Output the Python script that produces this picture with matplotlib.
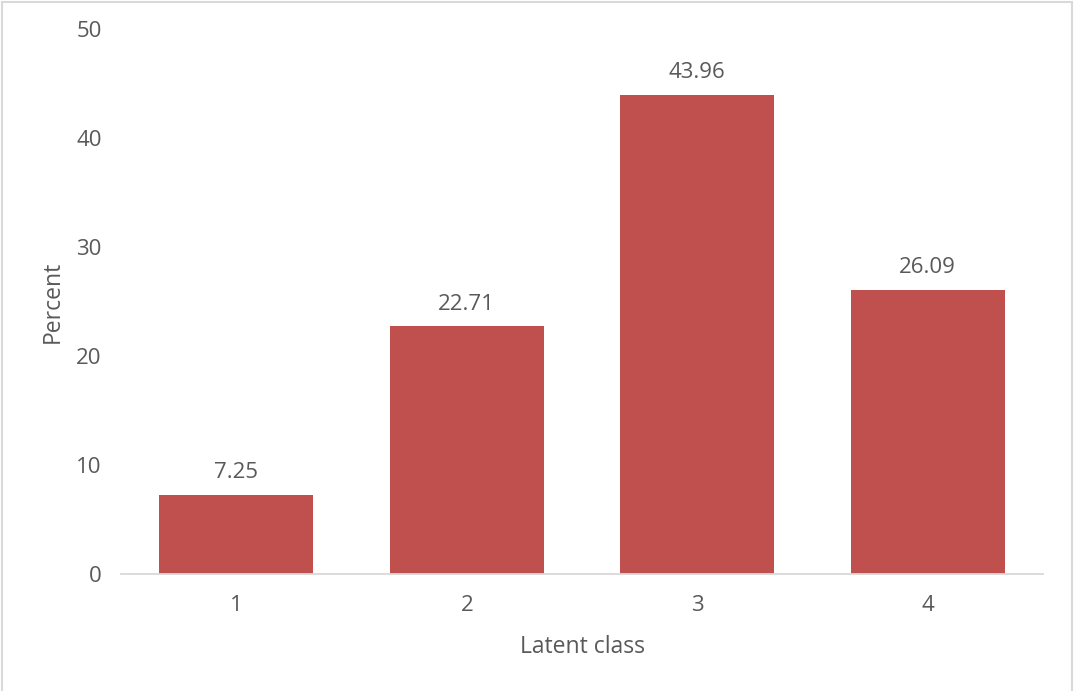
import matplotlib
matplotlib.use("Agg")
import matplotlib.pyplot as plt
from matplotlib.patches import Rectangle

categories = ["1", "2", "3", "4"]
percent = [7.25, 22.71, 43.96, 26.09]
y_ticks = [0, 10, 20, 30, 40, 50]

text_color = "#595959"
bar_color = "#C0504D"
plt.rcParams["font.family"] = ["Open Sans", "DejaVu Sans"]

fig = plt.figure(figsize=(10.74, 6.91), dpi=100)
ax = fig.add_axes([121 / 1074, (691 - 574) / 691, 922 / 1074, 545 / 691])

x = list(range(len(categories)))
ax.bar(x, percent, width=0.67, color=bar_color, zorder=2)
for xi, v in zip(x, percent):
    ax.annotate(f"{v:.2f}", (xi, v), xytext=(0, 8.5), textcoords="offset points",
                ha="center", va="bottom", fontsize=16, color=text_color)

ax.set_xlim(-0.5, len(categories) - 0.5)
ax.set_ylim(0, 50)
ax.set_yticks(y_ticks)
ax.set_xticks(x)
ax.set_xticklabels(categories)
ax.tick_params(axis="both", length=0, labelsize=16, labelcolor=text_color)
ax.tick_params(axis="y", pad=14)
ax.tick_params(axis="x", pad=15)

for side in ("top", "right", "left"):
    ax.spines[side].set_visible(False)
ax.spines["bottom"].set_color("#D9D9D9")
ax.spines["bottom"].set_linewidth(1.3)

ax.set_xlabel("Latent class", fontsize=16.5, color=text_color, labelpad=14)
ax.set_ylabel("Percent", fontsize=16.5, color=text_color, labelpad=8)

# light frame around the chart area (bottom edge runs off the canvas)
fig.patches.append(Rectangle((1.5 / 1074, -0.05), 1 - 4 / 1074, 1.05 - 1.5 / 691,
                             transform=fig.transFigure, fill=False,
                             edgecolor="#D9D9D9", linewidth=1.5))

fig.savefig("out.png", dpi=100, facecolor="white")
